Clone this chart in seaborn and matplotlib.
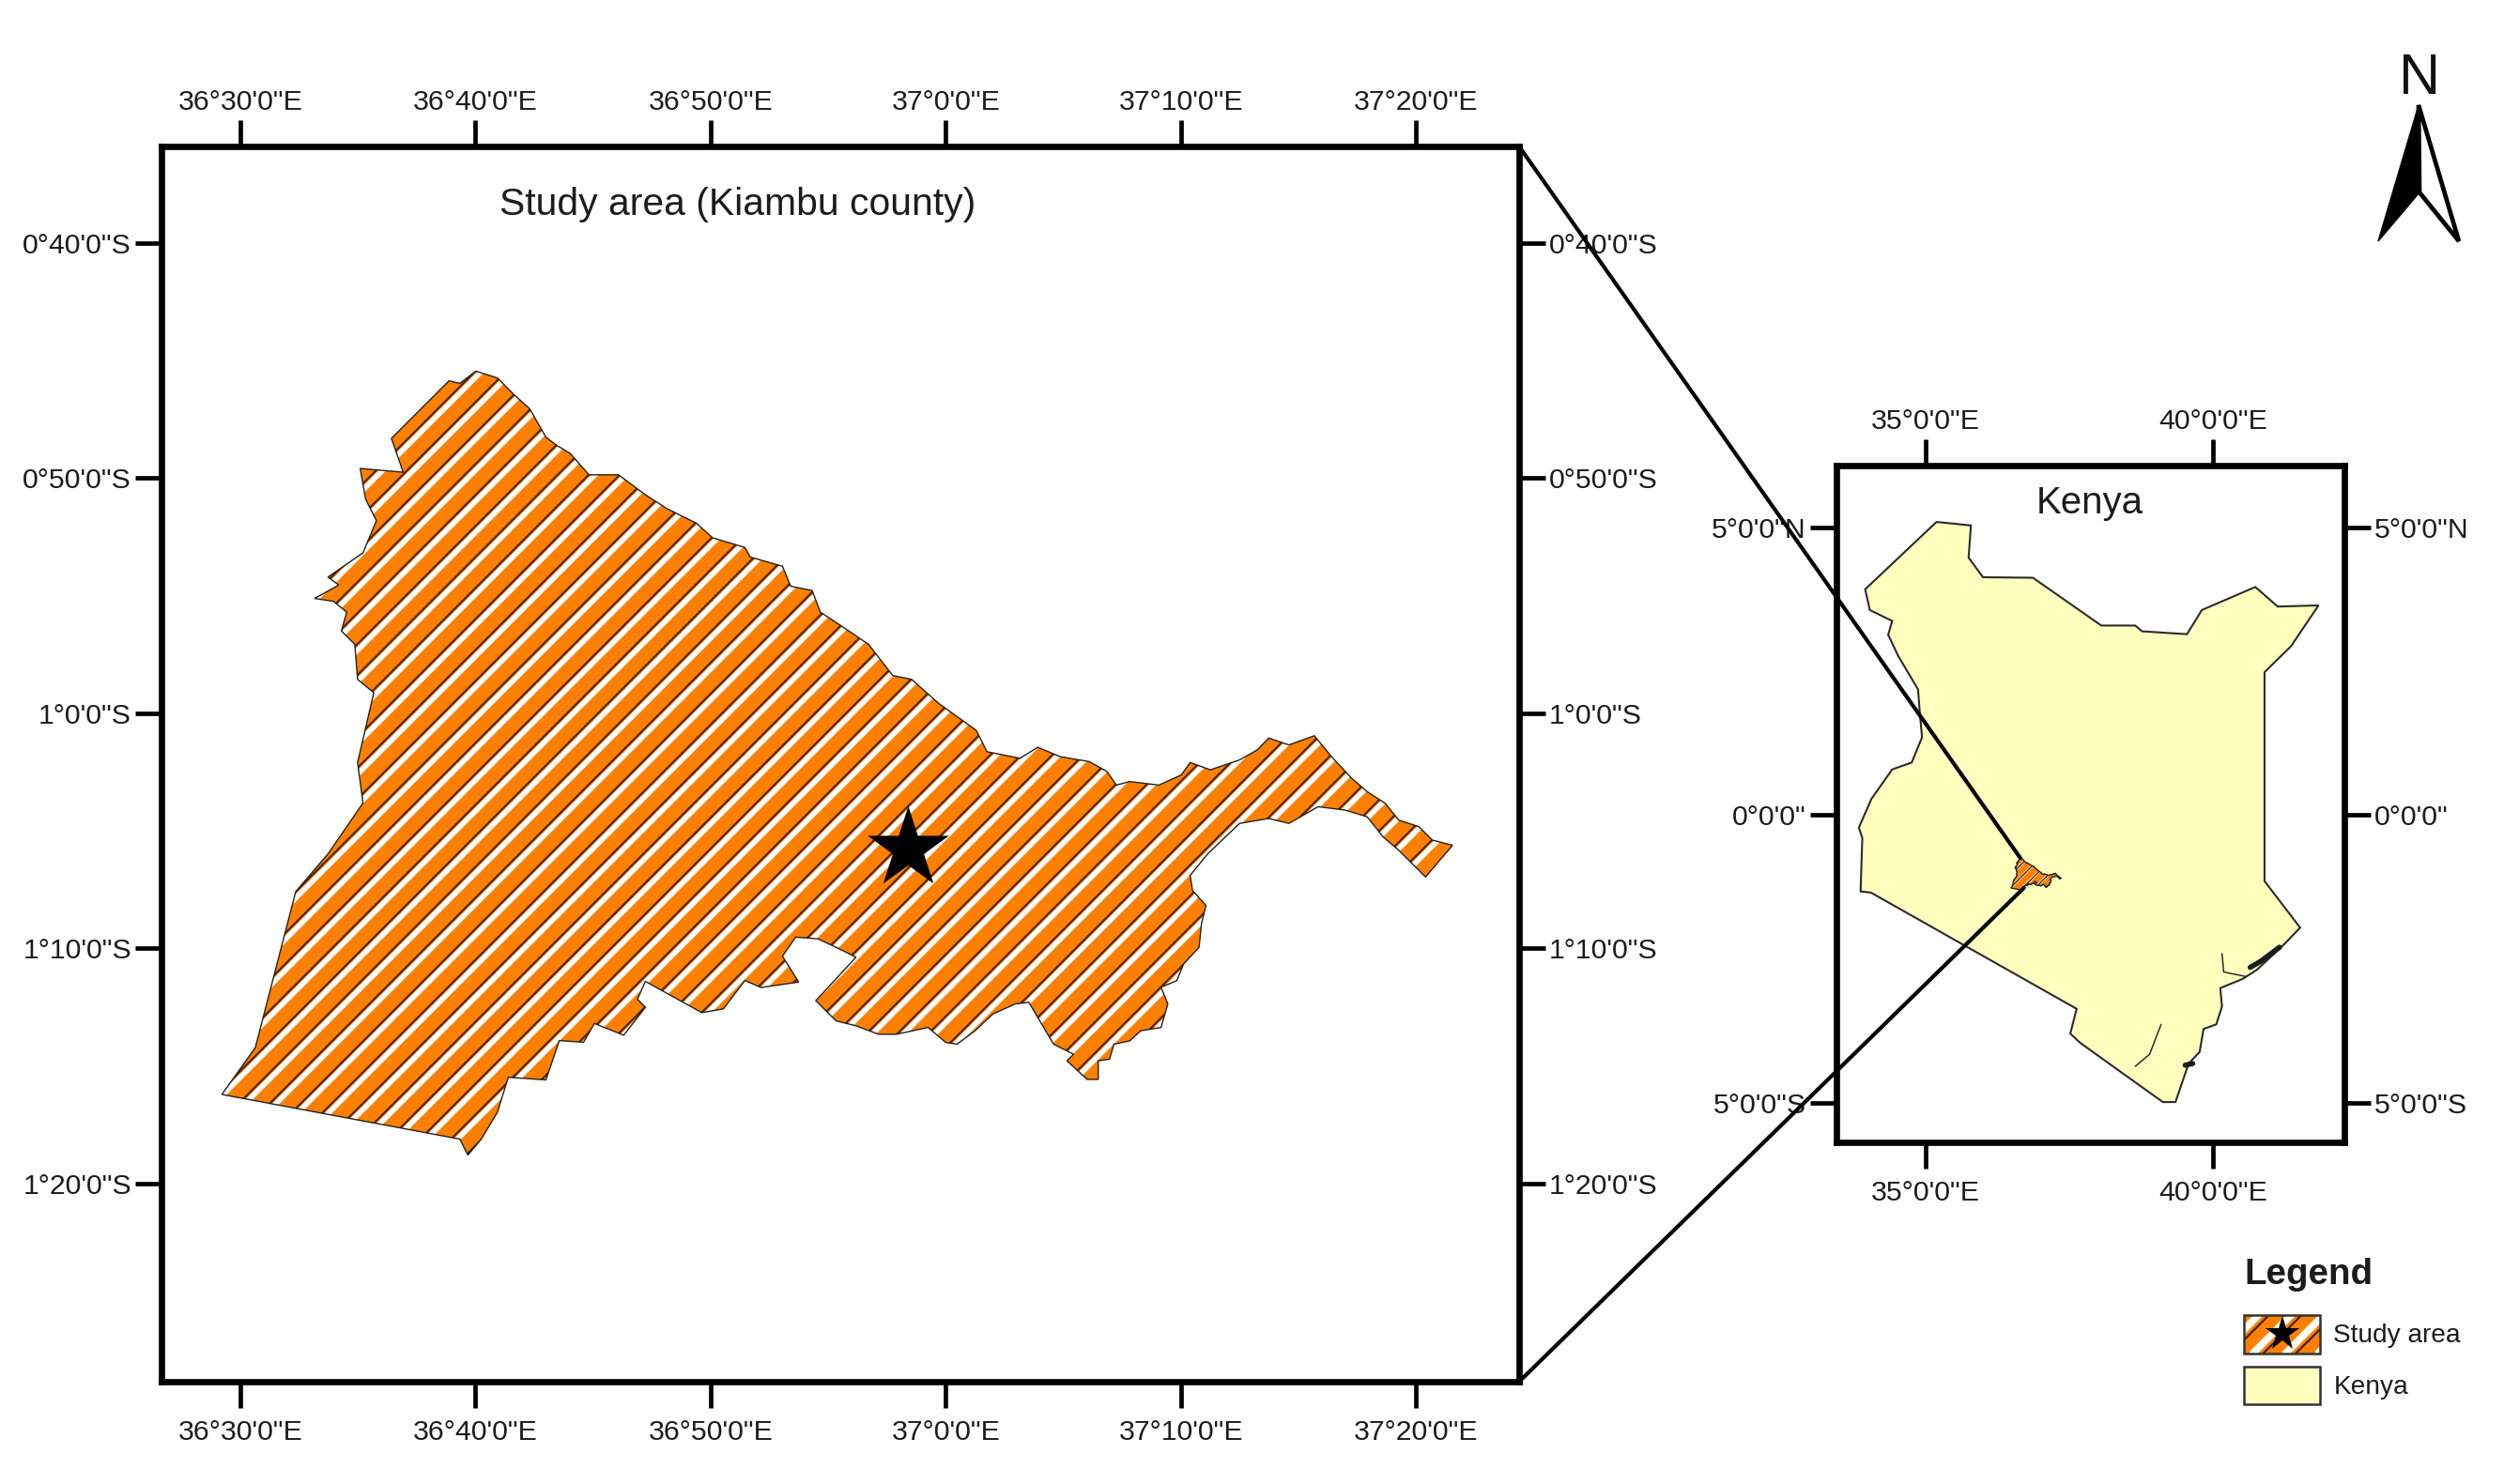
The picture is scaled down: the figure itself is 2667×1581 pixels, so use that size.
import numpy as np
import matplotlib
matplotlib.use("Agg")
import matplotlib.pyplot as plt
import seaborn as sns
from matplotlib.collections import LineCollection
from matplotlib.legend_handler import HandlerBase
from matplotlib.lines import Line2D
from matplotlib.patches import ConnectionPatch, Patch, Polygon, Rectangle
from matplotlib.transforms import ScaledTranslation

# ---------- data: study-area outline, arc-minutes east of 36 deg and south of the equator
kiambu_lon_min = [
    40.02, 40.94, 41.62, 42.31, 43.00, 43.45, 44.03, 44.83, 46.09, 47.23, 48.15, 49.40, 50.09,
    51.46, 51.69, 53.06, 53.41, 54.32, 54.67, 55.70, 56.72, 57.75, 58.55, 59.70, 61.30, 61.76,
    63.16, 63.92, 64.87, 66.11, 66.87, 67.26, 67.83, 69.07, 70.02, 70.40, 71.26, 72.50, 73.26,
    73.74, 74.60, 75.68, 76.41, 77.27, 77.93, 78.70, 79.27, 80.13, 80.70, 81.56, 80.41, 79.27,
    78.60, 77.93, 76.98, 75.84, 74.60, 73.74, 72.50, 71.16, 70.40, 70.50, 71.07, 70.88, 70.78,
    70.12, 69.83, 69.16, 69.45, 69.16, 68.30, 67.83, 67.16, 66.97, 66.49, 66.49, 66.02, 65.16,
    65.44, 64.59, 63.54, 62.96, 62.01, 61.25, 60.49, 60.01, 59.25, 57.91, 57.15, 56.19, 55.34,
    54.48, 56.19, 55.34, 54.57, 53.62, 53.06, 53.75, 52.15, 51.46, 50.55, 49.63, 47.23, 46.89,
    47.23, 46.31, 45.06, 44.60, 43.57, 43.00, 41.40, 40.94, 40.25, 39.68, 39.34, 29.22, 30.64,
    32.36, 33.73, 35.22, 34.99, 35.68, 34.99, 34.87, 34.30, 34.53, 33.96, 33.16, 34.19, 33.73,
    35.22, 35.79, 35.33, 35.10, 36.93, 36.43, 38.88, 39.34,
]
kiambu_lat_min = [
    45.45, 45.74, 46.43, 47.05, 48.26, 48.60, 48.95, 49.86, 49.86, 50.71, 51.30, 51.92, 52.54,
    52.95, 53.36, 53.75, 54.60, 54.78, 55.70, 56.38, 57.07, 58.40, 58.56, 59.58, 60.73, 61.64,
    61.92, 61.45, 61.85, 62.06, 62.49, 63.06, 62.91, 63.06, 62.63, 62.10, 62.41, 61.99, 61.56,
    61.06, 61.35, 60.96, 61.85, 62.77, 63.34, 63.84, 64.55, 64.83, 65.40, 65.62, 66.97, 65.83,
    65.26, 64.41, 64.12, 63.98, 64.69, 64.48, 64.69, 65.97, 66.90, 67.54, 68.18, 68.96, 69.96,
    70.67, 71.38, 71.66, 72.37, 73.37, 73.51, 73.94, 74.08, 74.72, 74.79, 75.58, 75.58, 74.79,
    74.51, 74.08, 72.30, 72.37, 72.80, 73.51, 74.08, 74.01, 73.37, 73.66, 73.66, 73.30, 73.09,
    72.23, 70.38, 69.96, 69.60, 69.53, 70.34, 71.44, 71.67, 71.37, 72.58, 72.74, 71.41, 72.17,
    72.51, 73.70, 73.20, 74.00, 73.93, 75.60, 75.49, 76.97, 78.12, 78.80, 78.12, 76.22, 74.23,
    67.59, 65.99, 63.82, 62.10, 59.13, 58.56, 57.07, 56.50, 55.70, 55.24, 55.12, 54.55, 54.21,
    53.18, 51.81, 50.89, 49.59, 49.75, 48.31, 45.86, 45.97,
]
star_lon_min = [58.39]
star_lat_min = [65.76]

# Kenya outline, decimal degrees
kenya_lon = [
    33.95, 35.19, 35.79, 35.75, 36.00, 36.87, 38.06, 38.65, 38.77, 39.55, 39.81, 40.74, 41.13,
    41.84, 41.36, 40.90, 40.90, 41.52, 41.23, 40.77, 40.52, 40.13, 40.16, 40.06, 39.84, 39.77,
    39.58, 39.35, 39.13, 37.69, 37.52, 37.63, 34.05, 33.87, 33.90, 33.84, 34.06, 34.42, 34.76,
    34.94, 34.90, 34.87, 34.52, 34.35, 34.42, 34.03,
]
kenya_lat = [
    3.92, 5.09, 5.03, 4.47, 4.13, 4.12, 3.29, 3.29, 3.19, 3.14, 3.56, 3.96, 3.62,
    3.64, 2.93, 2.48, -1.15, -1.96, -2.26, -2.69, -2.85, -3.01, -3.33, -3.64, -3.72, -4.12,
    -4.32, -4.99, -4.99, -3.96, -3.80, -3.37, -1.35, -1.33, -0.40, -0.22, 0.28, 0.79, 0.91,
    1.35, 1.78, 2.18, 2.77, 3.13, 3.37, 3.56,
]
river_a_lon = [40.16, 40.19, 40.58]
river_a_lat = [-2.41, -2.73, -2.81]
river_b_lon = [39.10, 38.90, 38.65]
river_b_lat = [-3.64, -4.16, -4.37]
coast_a_lon = [40.65, 40.84, 41.16]
coast_a_lat = [-2.65, -2.54, -2.30]
coast_b_lon = [39.52, 39.65]
coast_b_lat = [-4.35, -4.32]

main_xtick_min = [30, 40, 50, 60, 70, 80]
main_xlabels = ['36°30\'0"E', '36°40\'0"E', '36°50\'0"E', '37°0\'0"E', '37°10\'0"E', '37°20\'0"E']
main_ytick_min = [40, 50, 60, 70, 80]
main_ylabels = ['0°40\'0"S', '0°50\'0"S', '1°0\'0"S', '1°10\'0"S', '1°20\'0"S']
inset_xticks = [35, 40]
inset_xlabels = ['35°0\'0"E', '40°0\'0"E']
inset_yticks = [5, 0, -5]
inset_ylabels = ['5°0\'0"N', '0°0\'0"', '5°0\'0"S']

ORANGE = "#FF8000"
YELLOW = "#FFFFBE"
W, H = 2667, 1581

sns.set_theme(style="white")
plt.rcParams["font.family"] = ["Liberation Sans", "DejaVu Sans"]
plt.rcParams["text.color"] = "#1c1c1c"

fig = plt.figure(figsize=(W / 100, H / 100), dpi=100, facecolor="white")


def axes_px(x0, x1, y0, y1):
    return fig.add_axes([x0 / W, 1 - y1 / H, (x1 - x0) / W, (y1 - y0) / H])


def lon_deg(m):
    return 36 + np.asarray(m, float) / 60


def lat_deg(m):
    return -np.asarray(m, float) / 60


def style_frame(ax, xt, xl, yt, yl):
    for s in ax.spines.values():
        s.set_visible(True)
        s.set_color("black")
        s.set_linewidth(4.8)
    ax.set_xticks(xt, xl)
    ax.set_yticks(yt, yl)
    ax.tick_params(axis="both", length=20, width=3.4, color="black", labelcolor="#1c1c1c",
                   labelsize=21.8, top=True, labeltop=True, right=True, labelright=True,
                   bottom=True, left=True)
    ax.tick_params(axis="x", pad=6)
    ax.tick_params(axis="y", pad=3)
    ax.grid(False)
    ax.set_facecolor("white")


def shift_xlabels_down(ax, px):
    offset = ScaledTranslation(0, -px / 100, fig.dpi_scale_trans)
    for lbl in ax.get_xticklabels():
        lbl.set_transform(lbl.get_transform() + offset)


def draw_area(ax, K0, period, off, lw_w, lw_b, lw_edge):
    pts = np.column_stack([lon_deg(kiambu_lon_min), lat_deg(kiambu_lat_min)])
    body = Polygon(pts, closed=True, facecolor=ORANGE, edgecolor="none", zorder=2)
    ax.add_patch(body)
    span = np.array([0.0, 140.0])
    Ks = K0 + period * np.arange(-70, 71)
    white = [np.column_stack([lon_deg(span), lat_deg(K - span)]) for K in Ks]
    dark = [np.column_stack([lon_deg(span), lat_deg(K + off - span)]) for K in Ks]
    for segs, col, lw in ((white, "white", lw_w), (dark, "#4a2600", lw_b)):
        lc = LineCollection(segs, colors=col, linewidths=lw, zorder=3)
        ax.add_collection(lc, autolim=False)
        lc.set_clip_path(body)
    ax.add_patch(Polygon(pts, closed=True, facecolor="none", edgecolor="#202020",
                         linewidth=lw_edge, zorder=4))


# ---------- main map
ax = axes_px(172, 1618, 156, 1472)
draw_area(ax, 106.81, 1.318, -0.27, 4.0, 1.5, 1.0)
sns.scatterplot(x=lon_deg(star_lon_min), y=lat_deg(star_lat_min), marker="*", s=4290,
                color="black", linewidth=0, ax=ax, zorder=6, legend=False)
style_frame(ax, lon_deg(main_xtick_min), main_xlabels, lat_deg(main_ytick_min), main_ylabels)
ax.set_xlim(lon_deg(26.65), lon_deg(84.39))
ax.set_ylim(lat_deg(88.44), lat_deg(35.89))
shift_xlabels_down(ax, 3.5)
ax.text(786 / W, 1 - 218 / H, "Study area (Kiambu county)", transform=fig.transFigure,
        ha="center", va="center", fontsize=29.4)

# ---------- Kenya inset
inset = axes_px(1956, 2497, 496, 1217)
inset.add_patch(Polygon(np.column_stack([kenya_lon, kenya_lat]), closed=True, facecolor=YELLOW,
                        edgecolor="#2b2b2b", linewidth=1.5, zorder=1))
for xs, ys, lw in ((river_a_lon, river_a_lat, 1.0), (river_b_lon, river_b_lat, 1.0),
                   (coast_a_lon, coast_a_lat, 4.0), (coast_b_lon, coast_b_lat, 4.0)):
    sns.lineplot(x=xs, y=ys, sort=False, estimator=None, color="#1c1c1c", linewidth=lw,
                 ax=inset, legend=False, zorder=2)
draw_area(inset, 117.6, 13.0, 0.0, 2.0, 1.0, 1.0)
style_frame(inset, inset_xticks, inset_xlabels, inset_yticks, inset_ylabels)
inset.set_xlim(33.45, 42.29)
inset.set_ylim(-5.69, 6.07)
shift_xlabels_down(inset, 3.5)
inset.text(2226 / W, 1 - 536 / H, "Kenya", transform=fig.transFigure, ha="center", va="center",
           fontsize=29)

# ---------- lines joining the frame corners to the study area in the inset
for corner, target in (((1, 1), (36.65, -0.75)), ((1, 0), (36.71, -1.27))):
    fig.add_artist(ConnectionPatch(xyA=corner, coordsA=ax.transAxes, xyB=target,
                                   coordsB=inset.transData, color="black", linewidth=3.0,
                                   zorder=10))


# ---------- legend
class StudyAreaHandler(HandlerBase):
    def create_artists(self, legend, orig_handle, xdescent, ydescent, width, height, fontsize,
                       trans):
        x0, y0 = -xdescent, -ydescent
        rect = Rectangle((x0, y0), width, height, facecolor=ORANGE, edgecolor="none",
                         transform=trans)
        artists = [rect]
        for shift in (-43, -18, 7, 32, 57):
            white = Line2D([x0 + shift, x0 + shift + height], [y0, y0 + height], color="white",
                           linewidth=5.5, transform=trans)
            dark = Line2D([x0 + shift + 8, x0 + shift + 8 + height], [y0, y0 + height],
                          color="#3a1c00", linewidth=1.5, transform=trans)
            white.set_clip_path(rect)
            dark.set_clip_path(rect)
            artists += [white, dark]
        artists.append(Rectangle((x0, y0), width, height, facecolor="none", edgecolor="#333333",
                                 linewidth=1.8, transform=trans))
        artists.append(Line2D([x0 + width / 2], [y0 + height / 2], marker="*", markersize=28,
                              color="black", markeredgewidth=0, linestyle="none", transform=trans))
        return artists


study_handle = Patch(facecolor=ORANGE)
kenya_handle = Patch(facecolor=YELLOW, edgecolor="#333333", linewidth=1.8)
leg = fig.legend([study_handle, kenya_handle], ["Study area", "Kenya"],
                 handler_map={study_handle: StudyAreaHandler()},
                 loc="upper left", bbox_to_anchor=(2390 / W, 1 - 1340 / H),
                 frameon=False, fontsize=20.2, borderpad=0, borderaxespad=0,
                 handlelength=2.9, handleheight=1.85, handletextpad=0.5, labelspacing=0.5,
                 title="Legend", title_fontproperties={"size": 27.7, "weight": "bold"},
                 alignment="left")
leg._legend_box.sep = 18

# ---------- north arrow
north_x = [2576, 2533, 2577, 2619]
north_y = [112, 257, 205, 257]
na = axes_px(2515, 2640, 100, 270)
na.set_xlim(2515, 2640)
na.set_ylim(270, 100)
na.axis("off")
na.add_patch(Polygon(np.column_stack([[north_x[0], north_x[2], north_x[3]],
                                      [north_y[0], north_y[2], north_y[3]]]), closed=True,
                     facecolor="white", edgecolor="black", linewidth=3.4, joinstyle="miter"))
na.add_patch(Polygon(np.column_stack([north_x[:3], north_y[:3]]), closed=True,
                     facecolor="black", edgecolor="black", linewidth=1.0))
fig.text(2577 / W, 1 - 85 / H, "N", ha="center", va="center", fontsize=44, color="#111111")

fig.savefig("out.png", dpi=100, facecolor="white")
